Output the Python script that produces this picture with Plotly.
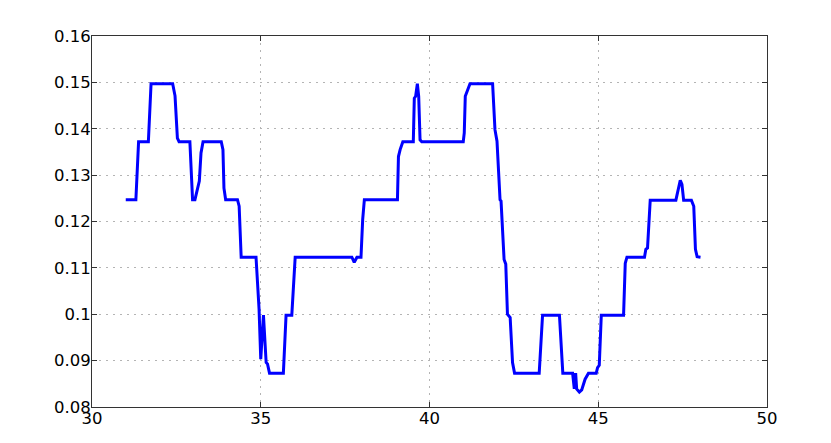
import plotly.graph_objects as go

# Data
x_vals = [31.00, 31.30, 31.38, 31.67, 31.75, 32.39, 32.46, 32.53, 32.58, 32.90,
          32.98, 33.05, 33.18, 33.23, 33.29, 33.83, 33.88, 33.91, 33.96, 34.31,
          34.36, 34.38, 34.40, 34.42, 34.86, 34.90, 34.95, 35.00, 35.08, 35.16,
          35.20, 35.26, 35.67, 35.75, 35.92, 36.02, 37.70, 37.77, 37.85, 37.97,
          38.02, 38.07, 39.05, 39.08, 39.13, 39.21, 39.52, 39.55, 39.59, 39.64,
          39.68, 39.72, 39.77, 41.00, 41.03, 41.06, 41.11, 41.15, 41.20, 41.87,
          41.94, 42.00, 42.09, 42.12, 42.21, 42.26, 42.31, 42.39, 42.46, 42.52,
          43.25, 43.35, 43.85, 43.95, 44.24, 44.29, 44.33, 44.36, 44.44, 44.51,
          44.61, 44.71, 44.94, 44.98, 45.03, 45.09, 45.75, 45.80, 45.85, 46.37,
          46.41, 46.46, 46.54, 47.30, 47.43, 47.48, 47.53, 47.76, 47.83, 47.88,
          47.93, 48.03]
y_vals = [0.1247, 0.1247, 0.1372, 0.1372, 0.1497, 0.1497, 0.1471, 0.1380, 0.1372, 0.1372,
          0.1247, 0.1247, 0.1287, 0.1348, 0.1372, 0.1372, 0.1355, 0.1272, 0.1247, 0.1247,
          0.1233, 0.1200, 0.1143, 0.1123, 0.1123, 0.1082, 0.1011, 0.0903, 0.0998, 0.0896,
          0.0893, 0.0873, 0.0873, 0.0998, 0.0998, 0.1123, 0.1123, 0.1112, 0.1123, 0.1123,
          0.1204, 0.1247, 0.1247, 0.1340, 0.1355, 0.1372, 0.1372, 0.1466, 0.1470, 0.1497,
          0.1470, 0.1376, 0.1372, 0.1372, 0.1391, 0.1470, 0.1480, 0.1488, 0.1497, 0.1497,
          0.1398, 0.1373, 0.1247, 0.1244, 0.1118, 0.1108, 0.1000, 0.0993, 0.0896, 0.0873,
          0.0873, 0.0998, 0.0998, 0.0873, 0.0873, 0.0839, 0.0873, 0.0839, 0.0832, 0.0837,
          0.0860, 0.0873, 0.0873, 0.0885, 0.0890, 0.0998, 0.0998, 0.1110, 0.1123, 0.1123,
          0.1140, 0.1143, 0.1246, 0.1246, 0.1289, 0.1280, 0.1246, 0.1246, 0.1233, 0.1140,
          0.1124, 0.1123]

x_ticks = [30, 35, 40, 45, 50]
y_ticks = [0.08, 0.09, 0.10, 0.11, 0.12, 0.13, 0.14, 0.15, 0.16]
y_tick_labels = ["0.08", "0.09", "0.1", "0.11", "0.12", "0.13", "0.14", "0.15", "0.16"]

fig = go.Figure()
fig.add_trace(go.Scatter(x=x_vals, y=y_vals, mode="lines",
                         line=dict(color="#0000ff", width=3), showlegend=False))

axis_common = dict(
    showline=True, linecolor="#333333", linewidth=1, mirror="ticks",
    ticks="inside", ticklen=5, tickcolor="#333333",
    showgrid=True, gridcolor="#b4b4b4", griddash="2px,5px", gridwidth=1,
    zeroline=False, automargin=False,
    tickfont=dict(family="DejaVu Sans", size=16.5, color="#000000"),
)

fig.update_xaxes(range=[30, 50], tickvals=x_ticks, ticktext=[str(v) for v in x_ticks],
                 ticklabelstandoff=-4, **axis_common)
fig.update_yaxes(range=[0.08, 0.16], tickvals=y_ticks, ticktext=y_tick_labels,
                 ticklabelstandoff=-3, **axis_common)

fig.update_layout(
    width=831, height=443,
    margin=dict(l=84, r=72, t=28, b=44, pad=0),
    paper_bgcolor="white", plot_bgcolor="white",
)

fig.write_html("out.html")
